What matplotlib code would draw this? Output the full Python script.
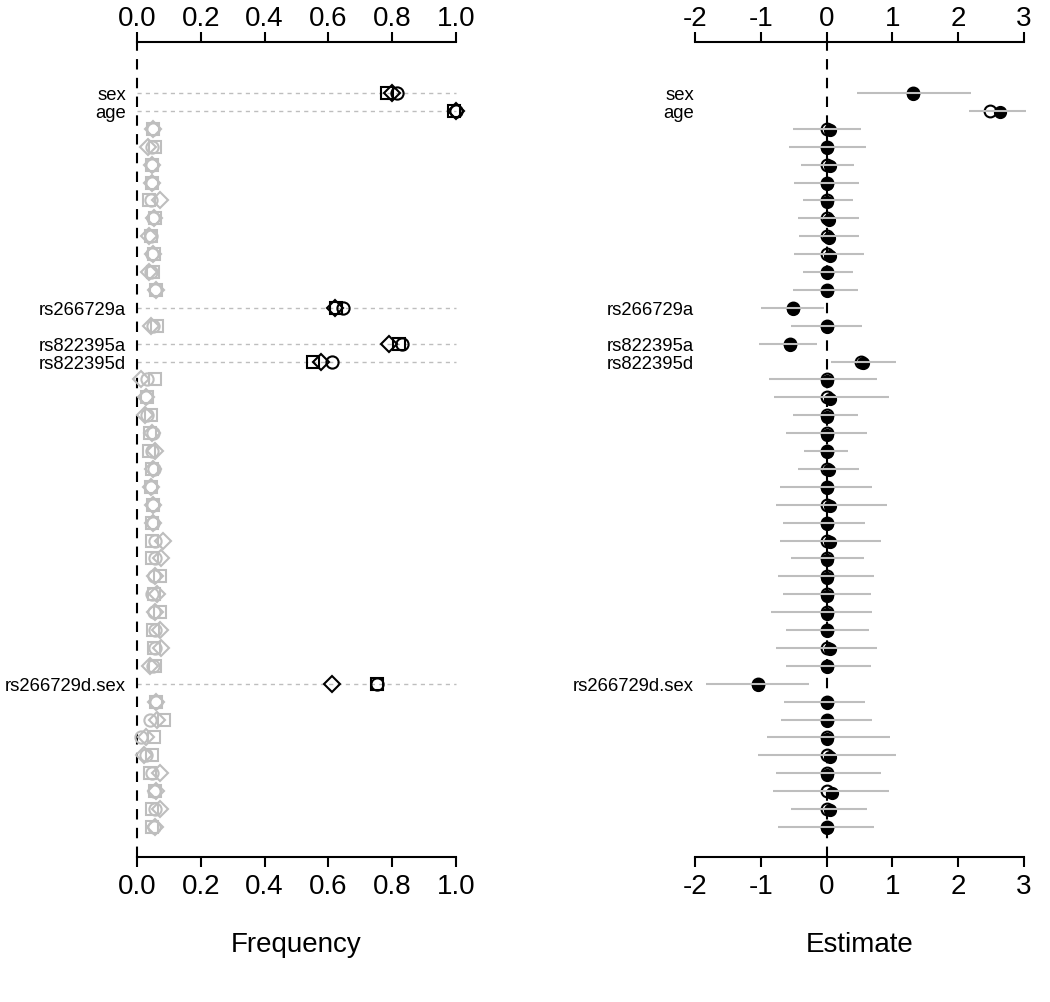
import matplotlib
matplotlib.use("Agg")
import matplotlib.pyplot as plt
import matplotlib.transforms as mtransforms
import numpy as np

plt.rcParams['font.family'] = ['Liberation Sans', 'DejaVu Sans']

# ---------------- data ----------------
row_labels = ["sex", "age"] + [""] * 10 + ["rs266729a", "", "rs822395a", "rs822395d"] + [""] * 17 + \
             ["rs266729d.sex"] + [""] * 8
significant = [0, 1, 12, 14, 15, 33]

freq_square = [0.783, 0.995, 0.050, 0.055, 0.047, 0.047, 0.037, 0.057, 0.045, 0.053,
               0.050, 0.060, 0.625, 0.062, 0.820, 0.553, 0.055, 0.031, 0.043, 0.042,
               0.037, 0.047, 0.043, 0.050, 0.047, 0.047, 0.047, 0.071, 0.053, 0.071,
               0.050, 0.053, 0.057, 0.751, 0.061, 0.085, 0.053, 0.047, 0.040, 0.055,
               0.047, 0.047]
freq_diamond = [0.800, 1.000, 0.050, 0.033, 0.047, 0.046, 0.071, 0.053, 0.037, 0.051,
                0.037, 0.058, 0.620, 0.043, 0.790, 0.576, 0.014, 0.029, 0.026, 0.047,
                0.055, 0.050, 0.043, 0.050, 0.050, 0.081, 0.076, 0.057, 0.064, 0.057,
                0.071, 0.076, 0.040, 0.610, 0.061, 0.064, 0.029, 0.022, 0.071, 0.061,
                0.071, 0.057]
freq_circle = [0.814, 1.000, 0.050, 0.047, 0.047, 0.046, 0.045, 0.050, 0.043, 0.048,
               0.045, 0.055, 0.647, 0.049, 0.830, 0.610, 0.032, 0.029, 0.032, 0.050,
               0.047, 0.053, 0.043, 0.050, 0.050, 0.057, 0.055, 0.053, 0.047, 0.053,
               0.055, 0.057, 0.050, 0.753, 0.061, 0.040, 0.014, 0.029, 0.047, 0.053,
               0.057, 0.053]

est_open = [1.32, 2.49, 0.0, 0.0, 0.0, 0.0, 0.0, 0.0, 0.0, 0.0,
            0.0, 0.0, -0.51, 0.0, -0.56, 0.52, 0.0, 0.0, 0.0, 0.0,
            0.0, 0.0, 0.0, 0.0, 0.0, 0.0, 0.0, 0.0, 0.0, 0.0,
            0.0, 0.0, 0.0, -1.04, 0.0, 0.0, 0.0, 0.0, 0.0, 0.0,
            0.0, 0.0]
est_filled = [1.32, 2.63, 0.05, 0.0, 0.05, 0.0, 0.0, 0.04, 0.04, 0.05,
              0.0, 0.0, -0.51, 0.0, -0.55, 0.55, 0.0, 0.05, 0.0, 0.0,
              0.0, 0.04, 0.0, 0.05, 0.0, 0.05, 0.0, 0.0, 0.0, 0.0,
              0.0, 0.05, 0.0, -1.04, 0.0, 0.0, 0.0, 0.05, 0.0, 0.08,
              0.05, 0.0]
ci_low = [0.46, 2.16, -0.51, -0.57, -0.39, -0.49, -0.36, -0.44, -0.42, -0.49,
          -0.36, -0.51, -1.00, -0.54, -1.02, 0.07, -0.87, -0.80, -0.51, -0.62,
          -0.34, -0.44, -0.71, -0.77, -0.66, -0.71, -0.54, -0.74, -0.66, -0.85,
          -0.62, -0.77, -0.62, -1.83, -0.64, -0.69, -0.90, -1.05, -0.77, -0.82,
          -0.54, -0.74]
ci_high = [2.19, 3.03, 0.52, 0.60, 0.42, 0.49, 0.40, 0.49, 0.49, 0.57,
           0.40, 0.47, -0.04, 0.54, -0.14, 1.06, 0.77, 0.95, 0.47, 0.62,
           0.33, 0.49, 0.69, 0.92, 0.59, 0.82, 0.57, 0.72, 0.67, 0.69,
           0.64, 0.77, 0.67, -0.27, 0.59, 0.69, 0.97, 1.06, 0.82, 0.95,
           0.62, 0.72]

freq_ticks = [0.0, 0.2, 0.4, 0.6, 0.8, 1.0]
est_ticks = [-2, -1, 0, 1, 2, 3]

# ---------------- layout ----------------
W, H = 1050, 1002
fig = plt.figure(figsize=(W / 100, H / 100), dpi=100)

n = len(row_labels)
rows = np.arange(n)
y_top_px, y_bot_px = 42, 857
row0_px, step_px = 93, 17.9
ylim = ((y_bot_px - row0_px) / step_px, (y_top_px - row0_px) / step_px)

ax_b = 1 - y_bot_px / H
ax_h = (y_bot_px - y_top_px) / H

# left panel: 0 -> 137 px, 1 -> 456 px
l_scale = 456 - 137
l_xlim = (-0.04, 1.04)
ax1 = fig.add_axes([(137 + l_xlim[0] * l_scale) / W, ax_b,
                    (l_xlim[1] - l_xlim[0]) * l_scale / W, ax_h])
# right panel: -2 -> 695 px, 3 -> 1024 px
r_scale = (1024 - 695) / 5
r_xlim = (-2.1, 3.1)
ax2 = fig.add_axes([(695 + (r_xlim[0] + 2) * r_scale) / W, ax_b,
                    (r_xlim[1] - r_xlim[0]) * r_scale / W, ax_h])

grey = "#BEBEBE"
sig = np.zeros(n, bool)
sig[significant] = True

# ---- left: frequencies ----
ax1.set_xlim(*l_xlim)
ax1.set_ylim(*ylim)
for r in significant:
    ax1.plot([0, 1], [r, r], color=grey, lw=1.0, ls=(0, (3, 3)), zorder=1)
ax1.plot([0, 0], [ylim[0], ylim[1]], color="black", lw=1.5, ls=(0, (5, 4)), zorder=2)
fs = np.array(freq_square); fd = np.array(freq_diamond); fc = np.array(freq_circle)
for mask, col, z in [(~sig, grey, 3), (sig, "black", 4)]:
    ax1.plot(fs[mask], rows[mask], ls="none", marker="s", ms=8.8, mfc="none", mec=col, mew=1.5, zorder=z, clip_on=False)
    ax1.plot(fd[mask], rows[mask], ls="none", marker="D", ms=8.0, mfc="none", mec=col, mew=1.5, zorder=z, clip_on=False)
    ax1.plot(fc[mask], rows[mask], ls="none", marker="o", ms=8.8, mfc="none", mec=col, mew=1.5, zorder=z, clip_on=False)

# ---- right: estimates ----
ax2.set_xlim(*r_xlim)
ax2.set_ylim(*ylim)
ax2.plot([0, 0], [ylim[0], ylim[1]], color="black", lw=1.5, ls=(0, (5, 4)), zorder=1)
ax2.plot(est_open, rows, ls="none", marker="o", ms=8.5, mfc="none", mec="black", mew=1.5, zorder=2)
ax2.plot(est_filled, rows + 0.08, ls="none", marker="o", ms=8.5, mfc="black", mec="black", mew=1.0, zorder=3)
ax2.hlines(rows, ci_low, ci_high, color=grey, lw=1.5, zorder=4)

for ax, ticks, fmt, xr in [(ax1, freq_ticks, "{:.1f}", (0, 1)), (ax2, est_ticks, "{:d}", (-2, 3))]:
    for s in ["left", "right"]:
        ax.spines[s].set_visible(False)
    for s in ["top", "bottom"]:
        ax.spines[s].set_bounds(*xr)
        ax.spines[s].set_linewidth(1.5)
    ax.set_yticks([])
    ax.set_xticks(ticks)
    ax.set_xticklabels([fmt.format(t) for t in ticks])
    ax.tick_params(axis="x", top=True, labeltop=True, bottom=True, labelbottom=True,
                   direction="out", length=7, width=1.5, labelsize=20, pad=5)
    ax.patch.set_visible(False)
    # bring top tick labels a bit closer to the axis line
    off = mtransforms.ScaledTranslation(0, -7 / 100, fig.dpi_scale_trans)
    for tick in ax.xaxis.get_major_ticks():
        tick.label2.set_transform(tick.label2.get_transform() + off)

# row labels
for xpx in (126, 694):
    for r, lab in enumerate(row_labels):
        if lab:
            fig.text(xpx / W, 1 - (row0_px + step_px * r + 3) / H, lab,
                     ha="right", va="center", fontsize=13.3)

fig.text(296.5 / W, 1 - 945 / H, "Frequency", ha="center", va="center", fontsize=20)
fig.text(859.5 / W, 1 - 945 / H, "Estimate", ha="center", va="center", fontsize=20)

fig.savefig("out.png", dpi=100)
